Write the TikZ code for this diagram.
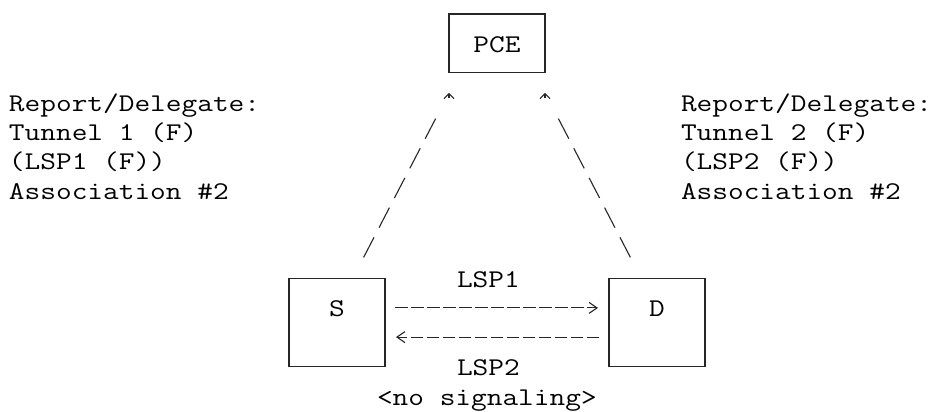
\documentclass[tikz,border=0pt]{standalone}
\usetikzlibrary{arrows.meta,calc}
\newcommand\mytt{\fontsize{25.5}{30}\ttfamily}
\newcommand\ms[1]{\scalebox{1.195}[1]{#1}}
\begin{document}
\begin{tikzpicture}[x=1pt,y=-1pt,
  txt/.style={font=\mytt, inner sep=0pt, outer sep=0pt, anchor=base west, text=black},
  lbl/.style={font=\mytt, inner sep=0pt, outer sep=0pt, anchor=base, text=black},
  box/.style={draw=black!85, line width=1.2pt, inner sep=0pt, outer sep=0pt, minimum width=96pt},
  diag/.style={draw=black!85, line width=1.1pt,
    dash pattern=on 22.6pt off 10.85pt on 22.6pt off 10.85pt on 22.6pt off 10.85pt on 22.6pt off 10.85pt on 22.6pt off 80pt},
  caret/.style={draw=black!85, line width=1.1pt, solid,
    -{Straight Barb[length=5pt,width=10pt,line width=1.1pt]}},
  flow/.style={draw=black!85, line width=1.1pt, dash pattern=on 12.5pt off 3.5pt,
    -{Straight Barb[length=8pt,width=11pt,line width=1.1pt]}}
]
\useasboundingbox (0,0) rectangle (938,412);

% boxes
\node[box, minimum height=58.8pt] (P) at (497,43.4) {};
\node[box, minimum height=88.2pt] (S) at (337,322.5) {};
\node[box, minimum height=88.2pt] (D) at (657,322.5) {};
\node[lbl] (Plbl) at (497,52.4) {\ms{PCE}};
\node[lbl] (Slbl) at (337,316.8) {\ms{S}};
\node[lbl] (Dlbl) at (657,316.8) {\ms{D}};

% side texts
\node[txt] (l1) at (9,111.1) {\ms{Report/Delegate:}};
\node[txt] (l2) at (9,140.5) {\ms{Tunnel 1 (F)}};
\node[txt] (l3) at (9,169.9) {\ms{(LSP1 (F))}};
\node[txt] (l4) at (9,199.3) {\ms{Association \#2}};
\node[txt] (r1) at (681,111.1) {\ms{Report/Delegate:}};
\node[txt] (r2) at (681,140.5) {\ms{Tunnel 2 (F)}};
\node[txt] (r3) at (681,169.9) {\ms{(LSP2 (F))}};
\node[txt] (r4) at (681,199.3) {\ms{Association \#2}};

% link labels
\node[txt] (lsp1) at (457,287.4) {\ms{LSP1}};
\node[txt] (lsp2) at (457,375.6) {\ms{LSP2}};
\node[txt] (nosig) at (377,405) {\ms{<no signaling>}};

% diagonal connectors to PCE
\coordinate (sa) at ($(S.north east)+(-21.4,-21)$);
\coordinate (pa) at ($(P.south west)+(0,20)$);
\coordinate (da) at ($(D.north west)+(21.4,-21)$);
\coordinate (pb) at ($(P.south east)+(0,20)$);
\draw[diag] (sa) -- (pa);
\draw[diag] (da) -- (pb);
\draw[caret] ($(pa)+(0,5)$) -- (pa);
\draw[caret] ($(pb)+(0,5)$) -- (pb);

% LSP arrows
\draw[flow] ($(S.east)+(10,-14.6)$) -- ($(D.west)+(-11,-14.6)$);
\draw[flow] ($(D.west)+(-10,14.6)$) -- ($(S.east)+(11,14.6)$);
\end{tikzpicture}
\end{document}
